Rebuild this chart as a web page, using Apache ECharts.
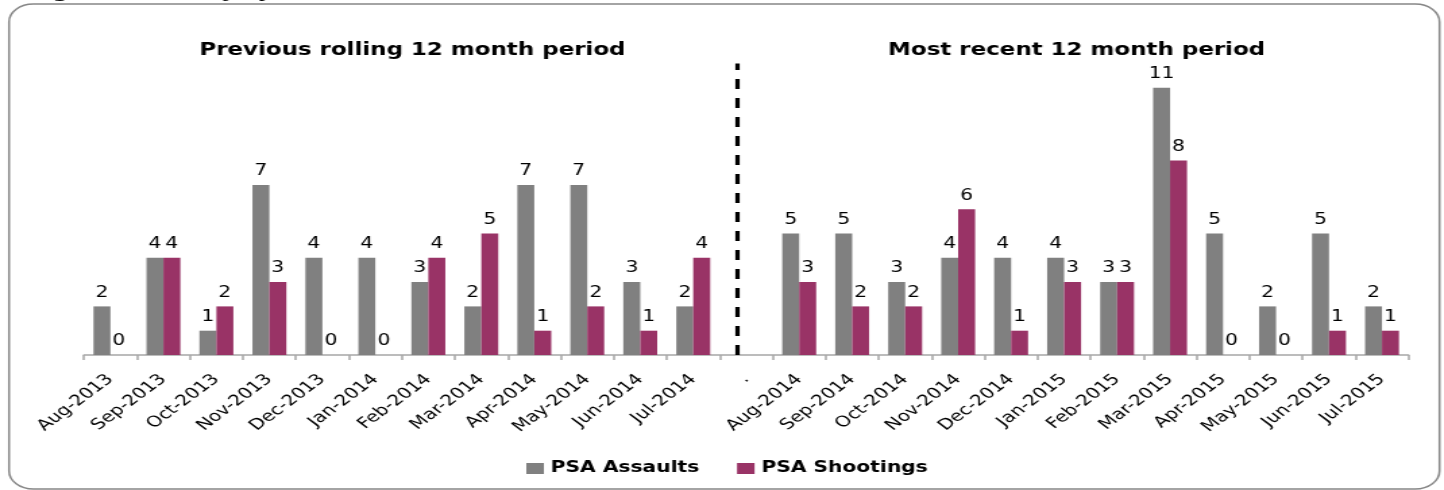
<!DOCTYPE html>
<html>
<head>
<meta charset="utf-8">
<script src="https://cdn.jsdelivr.net/npm/echarts@6/dist/echarts.min.js"></script>
<style>
html,body{margin:0;padding:0;background:#fff;}
#wrap{width:1444px;height:490px;overflow:hidden;}
#c{width:1070px;height:490px;transform:scaleX(1.3495);transform-origin:0 0;}
</style>
</head>
<body>
<div id="wrap"><div id="c"></div></div>
<script>
const categories = ['Aug-2013','Sep-2013','Oct-2013','Nov-2013','Dec-2013','Jan-2014','Feb-2014','Mar-2014','Apr-2014','May-2014','Jun-2014','Jul-2014','.','Aug-2014','Sep-2014','Oct-2014','Nov-2014','Dec-2014','Jan-2015','Feb-2015','Mar-2015','Apr-2015','May-2015','Jun-2015','Jul-2015'];
const assaults  = [2,4,1,7,4,4,3,2,7,7,3,2,null,5,5,3,4,4,4,3,11,5,2,5,2];
const shootings = [0,4,2,3,0,0,4,5,1,2,1,4,null,3,2,2,6,1,3,3,8,0,0,1,1];
const seriesNames = ['PSA Assaults','PSA Shootings'];
const periodTitles = ['Previous rolling 12 month period','Most recent 12 month period'];
const topCaption = '(August 2013 to July 2015)';
const dividerCategory = '.';

const FONT = 'DejaVu Sans';
const chart = echarts.init(document.getElementById('c'), null, {renderer:'canvas'});
const lbl = {show:true, position:'top', distance:6, color:'#000', fontFamily:FONT, fontSize:15};
chart.setOption({
  animation:false,
  backgroundColor:'#fff',
  grid:{left:62.2, right:26.3, top:63.4, bottom:135, containLabel:false},
  legend:{
    data:seriesNames, left:390, top:461, padding:0, itemWidth:13, itemHeight:11, itemGap:28,
    icon:'rect',
    textStyle:{fontFamily:FONT, fontWeight:'bold', fontSize:15, color:'#000'}
  },
  xAxis:{
    type:'category', data:categories,
    axisLine:{lineStyle:{color:'#a6a6a6', width:1.5}},
    axisTick:{show:true, length:5, lineStyle:{color:'#a6a6a6', width:1.5}},
    axisLabel:{rotate:45, interval:0, margin:22, color:'#000', fontFamily:FONT, fontSize:15}
  },
  yAxis:{type:'value', show:false, min:0, max:12, splitLine:{show:false}},
  series:[
    {name:seriesNames[0], type:'bar', data:assaults, itemStyle:{color:'#808080'},
     barGap:'0%', barCategoryGap:'36%', label:lbl,
     markLine:{silent:true, symbol:'none', label:{show:false},
       lineStyle:{color:'#000', width:3.2, type:[10,9]},
       data:[{xAxis:dividerCategory}]}},
    {name:seriesNames[1], type:'bar', data:shootings, itemStyle:{color:'#993366'},
     barGap:'0%', barCategoryGap:'36%', label:lbl}
  ],
  graphic:[
    {type:'rect', silent:true, shape:{x:6.7, y:4, width:1060, height:485, r:18},
     style:{fill:'none', stroke:'#878787', lineWidth:1.5}},
    {type:'text', silent:true, x:6, y:1,
     style:{text:topCaption, fontFamily:FONT, fontWeight:'bold', fontSize:17, fill:'#000', verticalAlign:'bottom', align:'left'}},
    {type:'text', silent:true, x:305.6, y:51,
     style:{text:periodTitles[0], fontFamily:FONT, fontWeight:'bold', fontSize:17, fill:'#000', align:'center', verticalAlign:'middle'}},
    {type:'text', silent:true, x:797.8, y:51,
     style:{text:periodTitles[1], fontFamily:FONT, fontWeight:'bold', fontSize:17, fill:'#000', align:'center', verticalAlign:'middle'}}
  ]
});
</script>
</body>
</html>
